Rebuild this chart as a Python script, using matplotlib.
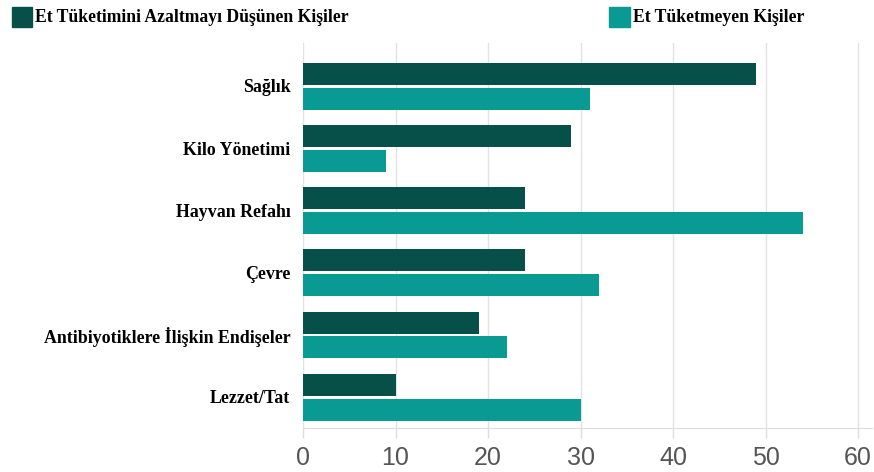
import numpy as np
import matplotlib.pyplot as plt
from matplotlib.patches import Rectangle

categories = ["Sağlık", "Kilo Yönetimi", "Hayvan Refahı", "Çevre",
              "Antibiyotiklere İlişkin Endişeler", "Lezzet/Tat"]
azaltmayi_dusunen = [49, 29, 24, 24, 19, 10]
tuketmeyen = [31, 9, 54, 32, 22, 30]
series_names = ["Et Tüketimini Azaltmayı Düşünen Kişiler", "Et Tüketmeyen Kişiler"]
xticks = [0, 10, 20, 30, 40, 50, 60]

colors = ["#07504a", "#0a9a94"]
serif = ["Liberation Serif", "DejaVu Serif"]

fig = plt.figure(figsize=(8.74, 4.72), dpi=100)
ax = fig.add_axes([303 / 874, 1 - 428 / 472, 569 / 874, 385 / 472])

y = np.arange(len(categories))
h = 0.355
ax.barh(y - 0.195, azaltmayi_dusunen, h, color=colors[0], zorder=3)
ax.barh(y + 0.205, tuketmeyen, h, color=colors[1], zorder=3)

ax.set_xlim(0, 61.5)
ax.set_ylim(5.5, -0.69)
ax.set_xticks(xticks)
ax.set_xticklabels([str(t) for t in xticks], family=["Liberation Sans Narrow", "Liberation Sans"],
                   fontsize=18, color="#555555")
ax.set_yticks(y)
ax.set_yticklabels(categories, family=serif, fontweight="bold", fontsize=12.9, color="black")
ax.tick_params(axis="y", length=0, pad=9)
ax.tick_params(axis="x", length=7, color="#dddddd", width=1, pad=6)
ax.grid(axis="x", color="#e2e2e2", linewidth=1, zorder=0)
for s in ["top", "right", "left"]:
    ax.spines[s].set_visible(False)
ax.spines["bottom"].set_color("#dddddd")

# legend drawn by hand, two entries far apart
fig.patches.append(Rectangle((12 / 874, 1 - 27 / 472), 20 / 874, 20 / 472,
                             transform=fig.transFigure, color=colors[0]))
fig.text(35 / 874, 1 - 17 / 472, series_names[0], family=serif, fontweight="bold",
         fontsize=12.7, va="center", ha="left")
fig.patches.append(Rectangle((609 / 874, 1 - 27 / 472), 21 / 874, 20 / 472,
                             transform=fig.transFigure, color=colors[1]))
fig.text(633 / 874, 1 - 17 / 472, series_names[1], family=serif, fontweight="bold",
         fontsize=12.7, va="center", ha="left")

fig.savefig("out.png", dpi=100)
